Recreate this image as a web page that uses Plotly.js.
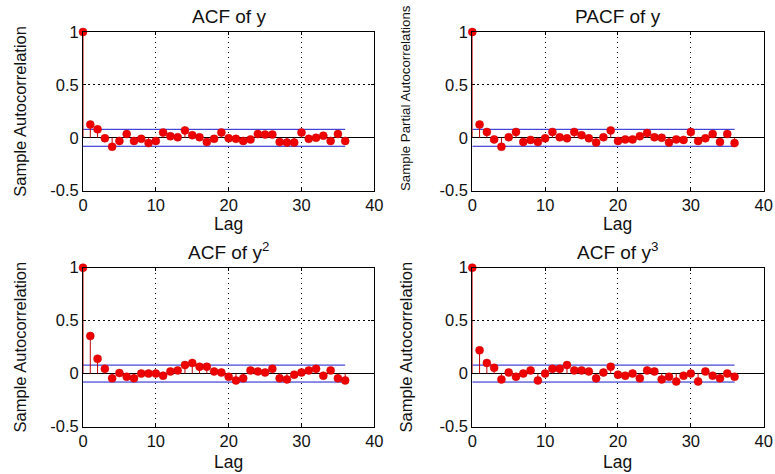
<!DOCTYPE html>
<html>
<head>
<meta charset="utf-8">
<script src="https://cdn.plot.ly/plotly-3.0.1.min.js"></script>
<style>html,body{margin:0;padding:0;background:#fff;}#chart{width:775px;height:474px;}</style>
</head>
<body>
<div id="chart"></div>
<script>
const lags = Array.from({length: 37}, (_, i) => i);

const acfY = [1, 0.125, 0.08, -0.005, -0.085, -0.03, 0.035, -0.03, -0.01, -0.05, -0.03,
  0.05, 0.015, 0.005, 0.07, 0.025, 0.005, -0.04, -0.01, 0.05, -0.005,
  -0.01, -0.03, -0.015, 0.035, 0.03, 0.03, -0.04, -0.045, -0.045, 0.05,
  -0.01, 0.0, 0.02, -0.03, 0.035, -0.03];

const pacfY = [1, 0.125, 0.055, -0.015, -0.085, 0.005, 0.055, -0.04, -0.02, -0.04, -0.005,
  0.055, 0.005, -0.005, 0.055, 0.025, -0.005, -0.045, 0.005, 0.07, -0.03,
  -0.015, -0.015, 0.015, 0.045, 0.005, 0.0, -0.045, -0.015, -0.02, 0.055,
  -0.03, -0.005, 0.035, -0.04, 0.035, -0.05];

const acfY2 = [1, 0.355, 0.14, 0.045, -0.045, 0.005, -0.03, -0.045, 0.0, 0.0, 0.0,
  -0.02, 0.02, 0.03, 0.08, 0.1, 0.065, 0.065, 0.02, 0.01, -0.03,
  -0.065, -0.045, 0.03, 0.02, 0.01, 0.045, -0.045, -0.055, -0.01, 0.01,
  0.03, 0.045, -0.02, 0.03, -0.045, -0.065];

const acfY3 = [1, 0.22, 0.1, 0.055, -0.055, 0.01, -0.03, 0.0, 0.03, -0.065, 0.0,
  0.045, 0.045, 0.08, 0.03, 0.03, 0.02, -0.045, 0.01, 0.065, -0.01,
  -0.02, 0.0, -0.045, 0.03, 0.02, -0.055, -0.03, -0.075, -0.02, 0.0,
  -0.075, 0.02, -0.02, -0.045, 0.0, -0.03];

const bound = 0.08;
const boundLags = [0, 36];

const titles = ['ACF of y', 'PACF of y', 'ACF of y<sup>2</sup>', 'ACF of y<sup>3</sup>'];
const yTitles = ['Sample Autocorrelation', 'Sample Partial Autocorrelations', 'Sample Autocorrelation', 'Sample Autocorrelation'];
const xTitle = 'Lag';
const xTicks = [0, 10, 20, 30, 40];
const yTicks = [-0.5, 0, 0.5, 1];
const yTickText = ['-0.5', '0', '0.5', '1'];

const series = [acfY, pacfY, acfY2, acfY3];

const FONT = 'Liberation Sans, Arial, sans-serif';
const TXT = '#111';
const traces = [];
series.forEach((vals, k) => {
  const xa = k === 0 ? 'x' : 'x' + (k + 1);
  const ya = k === 0 ? 'y' : 'y' + (k + 1);
  const sx = [], sy = [];
  lags.forEach((l, i) => { sx.push(l, l, null); sy.push(0, vals[i], null); });
  traces.push({x: boundLags, y: [bound, bound], xaxis: xa, yaxis: ya, mode: 'lines', line: {color: '#1a1acc', width: 1}, showlegend: false});
  traces.push({x: boundLags, y: [-bound, -bound], xaxis: xa, yaxis: ya, mode: 'lines', line: {color: '#1a1acc', width: 1}, showlegend: false});
  traces.push({x: sx, y: sy, xaxis: xa, yaxis: ya, mode: 'lines', line: {color: '#c00000', width: 1}, cliponaxis: false, showlegend: false});
  traces.push({x: lags, y: vals, xaxis: xa, yaxis: ya, mode: 'markers', cliponaxis: false, marker: {color: '#ee0000', size: 8, line: {color: '#cc0000', width: 0.5}}, showlegend: false});
});

const domX = [[0.1071, 0.4830], [0.6094, 0.9854]];
const domY = [[0.5977, 0.9325], [0.1002, 0.4352]];
const lagShift = [-33, -35];

const layout = {
  width: 775, height: 474,
  margin: {l: 0, r: 0, t: 0, b: 0},
  paper_bgcolor: '#fff', plot_bgcolor: '#fff',
  font: {family: FONT, size: 16, color: TXT},
  annotations: []
};

for (let k = 0; k < 4; k++) {
  const col = k % 2, row = Math.floor(k / 2);
  const xn = k === 0 ? 'xaxis' : 'xaxis' + (k + 1);
  const yn = k === 0 ? 'yaxis' : 'yaxis' + (k + 1);
  const yref = k === 0 ? 'y' : 'y' + (k + 1);
  const xref = k === 0 ? 'x' : 'x' + (k + 1);
  layout[xn] = {
    domain: domX[col], anchor: yref, range: [0, 40],
    tickvals: xTicks, ticks: 'inside', ticklen: 3, tickcolor: '#000',
    showline: true, mirror: 'ticks', linecolor: '#000', linewidth: 1,
    showgrid: true, gridcolor: '#000', griddash: '1.5px,3.5px', gridwidth: 1,
    zeroline: false,
    tickfont: {family: FONT, size: 16.5, color: TXT},
    automargin: false
  };
  const yAx = {
    domain: domY[row], anchor: xref, range: [-0.5, 1],
    tickvals: yTicks, ticktext: yTickText, ticks: 'inside', ticklen: 3, tickcolor: '#000',
    showline: true, mirror: 'ticks', linecolor: '#000', linewidth: 1,
    showgrid: true, gridcolor: '#000', griddash: '1.5px,3.5px', gridwidth: 1,
    zeroline: true, zerolinecolor: '#000', zerolinewidth: 1,
    tickfont: {family: FONT, size: 16.5, color: TXT},
    automargin: false
  };
  if (k !== 1) {
    yAx.title = {text: yTitles[k], font: {family: FONT, size: 16.5, color: TXT}, standoff: col === 0 ? 19 : 22};
  } else {
    layout.annotations.push({
      text: yTitles[k], xref: 'paper', yref: 'paper', x: 405 / 775, y: (474 - 98) / 474,
      xanchor: 'center', yanchor: 'middle', textangle: -90, showarrow: false,
      font: {family: FONT, size: 13.3, color: TXT}
    });
  }
  layout[yn] = yAx;
  layout.annotations.push({
    text: titles[k], xref: 'paper', yref: 'paper',
    x: (domX[col][0] + domX[col][1]) / 2, y: domY[row][1],
    xanchor: 'center', yanchor: 'bottom', yshift: 3, showarrow: false,
    font: {family: FONT, size: 19, color: TXT}
  });
  layout.annotations.push({
    text: xTitle, xref: 'paper', yref: 'paper',
    x: (domX[col][0] + domX[col][1]) / 2, y: domY[row][0],
    xanchor: 'center', yanchor: 'middle', yshift: lagShift[row], showarrow: false,
    font: {family: FONT, size: 17.5, color: TXT}
  });
}

Plotly.newPlot('chart', traces, layout, {staticPlot: true, displayModeBar: false});
</script>
</body>
</html>
